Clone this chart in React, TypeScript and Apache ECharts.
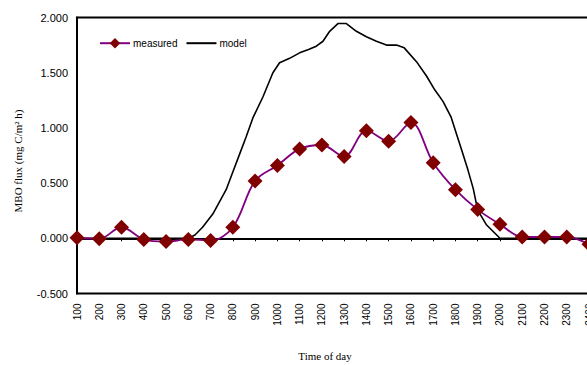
import React, { useEffect, useRef } from "react";
import * as echarts from "echarts";

// Hourly measured MBO flux (hour of day, 1 = 01:00 ... 24 = 24:00)
const measuredHours = [1, 2, 3, 4, 5, 6, 7, 8, 9, 10, 11, 12, 13, 14, 15, 16, 17, 18, 19, 20, 21, 22, 23, 24];
const measuredValues = [
  0.005, -0.005, 0.1, -0.01, -0.03, -0.01, -0.02, 0.1, 0.52, 0.66, 0.81, 0.845, 0.74, 0.975, 0.88, 1.048,
  0.685, 0.44, 0.26, 0.127, 0.012, 0.012, 0.012, -0.055,
];

// Modelled flux at finer time resolution
const modelHours = [
  1, 2, 3, 4, 5, 6, 6.3, 6.64, 7.1, 7.4, 7.7, 8.0, 8.3, 8.6, 8.9, 9.35, 9.8, 10.1, 10.55, 11, 11.4, 11.75,
  12.05, 12.35, 12.72, 13.1, 13.55, 14, 14.45, 14.9, 15.35, 15.7, 16.25, 16.7, 17.07, 17.44, 17.8, 18.04,
  18.28, 18.56, 18.8, 19.0, 19.4, 20, 21, 22, 23, 24,
];
const modelValues = [
  0, 0, 0, 0, 0, 0, 0.03, 0.1, 0.22, 0.33, 0.44, 0.6, 0.76, 0.92, 1.09, 1.28, 1.5, 1.59, 1.63, 1.68, 1.71,
  1.74, 1.785, 1.875, 1.945, 1.945, 1.875, 1.825, 1.785, 1.75, 1.75, 1.725, 1.6, 1.47, 1.345, 1.24, 1.1,
  0.95, 0.8, 0.62, 0.45, 0.255, 0.12, 0, 0, 0, 0, 0,
];

const yTicks = { min: -0.5, max: 2.0, interval: 0.5 };

const SANS = "'Liberation Sans', Arial, sans-serif";
const SERIF = "'Liberation Serif', 'Times New Roman', serif";

export default function App() {
  const ref = useRef<HTMLDivElement>(null);

  useEffect(() => {
    if (!ref.current) return;
    const chart = echarts.init(ref.current, undefined, { renderer: "svg" });

    const measuredData = measuredHours.map((h, i) => [h, measuredValues[i]]);
    const modelData = modelHours.map((h, i) => [h, modelValues[i]]);

    chart.setOption({
      animation: false,
      backgroundColor: "#fff",
      grid: {
        left: 77,
        top: 17.5,
        width: 512,
        height: 276,
        show: true,
        borderColor: "#000",
        borderWidth: 2,
        backgroundColor: "transparent",
      },
      legend: {
        left: 94,
        top: 33,
        itemWidth: 30,
        itemHeight: 13,
        itemGap: 8,
        data: [
          { name: "measured" },
          { name: "model", itemStyle: { opacity: 0 } },
        ],
        textStyle: { fontFamily: SANS, fontSize: 10, color: "#000", padding: [0, 0, 0, -2] },
      },
      xAxis: [
        {
          type: "value",
          min: 1,
          max: 24,
          interval: 1,
          position: "bottom",
          axisLine: { show: true, onZero: true, lineStyle: { color: "#000", width: 2 } },
          axisTick: { show: true, length: 3, lineStyle: { color: "#000", width: 1 } },
          axisLabel: { show: false },
          splitLine: { show: false },
        },
        {
          type: "value",
          min: 1,
          max: 24,
          interval: 1,
          position: "bottom",
          axisLine: { show: false, onZero: false },
          axisTick: { show: false },
          splitLine: { show: false },
          axisLabel: {
            show: true,
            rotate: 90,
            margin: 10,
            fontFamily: SANS,
            fontSize: 10,
            color: "#000",
            formatter: (v: number) => String(Math.round(v * 100)),
          },
        },
      ],
      yAxis: {
        type: "value",
        min: yTicks.min,
        max: yTicks.max,
        interval: yTicks.interval,
        axisLine: { show: true, lineStyle: { color: "#000", width: 2 } },
        axisTick: { show: false },
        splitLine: { show: false },
        axisLabel: {
          margin: 9,
          fontFamily: SANS,
          fontSize: 11,
          color: "#000",
          formatter: (v: number) => v.toFixed(3),
        },
      },
      graphic: [
        {
          type: "text",
          x: 18,
          y: 161,
          rotation: Math.PI / 2,
          style: {
            text: "MBO flux (mg C/m² h)",
            font: `11px ${SERIF}`,
            fill: "#000",
            align: "center",
            verticalAlign: "middle",
          },
        },
        {
          type: "text",
          x: 325,
          y: 356,
          style: {
            text: "Time of day",
            font: `11px ${SERIF}`,
            fill: "#000",
            align: "center",
            verticalAlign: "middle",
          },
        },
      ],
      series: [
        {
          name: "model",
          type: "line",
          xAxisIndex: 0,
          data: modelData,
          showSymbol: false,
          symbol: "none",
          lineStyle: { color: "#000", width: 1.6 },
          itemStyle: { color: "#000" },
          z: 2,
        },
        {
          name: "measured",
          type: "line",
          xAxisIndex: 0,
          data: measuredData,
          smooth: 0.35,
          symbol: "diamond",
          symbolSize: 15,
          lineStyle: { color: "#800080", width: 1.8 },
          itemStyle: { color: "#800000" },
          z: 3,
        },
      ],
    });

    return () => chart.dispose();
  }, []);

  return (
    <div
      style={{
        position: "fixed",
        left: 0,
        top: 0,
        width: 587,
        height: 365,
        overflow: "hidden",
        background: "#fff",
      }}
    >
      <div ref={ref} style={{ width: 620, height: 365 }} />
    </div>
  );
}
